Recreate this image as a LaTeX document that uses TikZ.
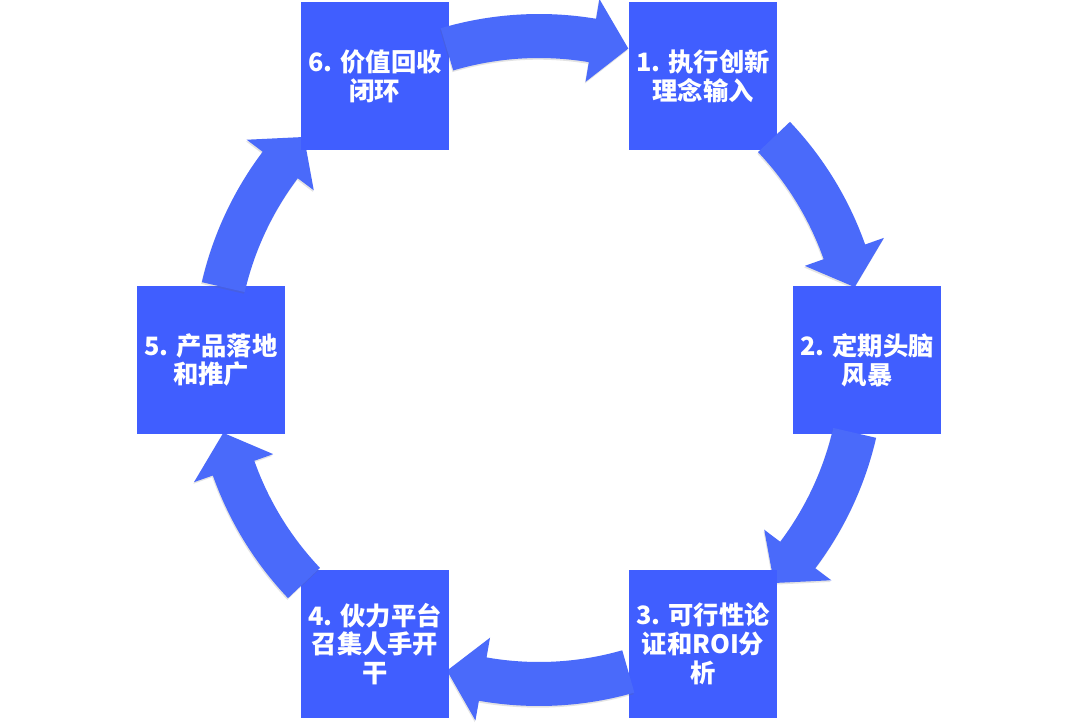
\documentclass[tikz,border=0pt]{standalone}
\usepackage{fontspec}
\newfontfamily\cjk{Noto Sans CJK SC}
\usetikzlibrary{shadows}
\definecolor{cBox}{HTML}{405EFF}
\definecolor{cArr}{HTML}{4A6AFA}
\tikzset{
  stage/.style={fill=cBox,minimum size=3.7cm,inner sep=0pt,text=white,
                align=center,font=\cjk\bfseries\fontsize{18}{20.5}\selectfont},
  cyc/.style={fill=cArr,drop shadow={shadow xshift=-0.5pt,shadow yshift=-1.2pt,
              opacity=0.18,fill=black!60}},
}
% curved block arrow on the ring: tail angle, tip angle
\newcommand{\cyclearrow}[2]{%
  \fill[cyc] (#1:346) arc[start angle=#1,end angle={#2+6.5},radius=346]
    -- ({#2+6.5}:366) -- (#2:324) -- ({#2+6.5}:282) -- ({#2+6.5}:302)
    arc[start angle={#2+6.5},end angle=#1,radius=302] -- cycle;}

\begin{document}
\begin{tikzpicture}[x=0.025cm,y=0.025cm]
  \useasboundingbox[fill=white] (-539,-368) rectangle (541,360);

  \node[stage] (s1) at (60:328) {1. 执行创新\\理念输入};
  \cyclearrow{43.5}{13}
  \node[stage] (s2) at (0:328) {2. 定期头脑\\风暴};
  \cyclearrow{-13}{-43.5}
  \node[stage] (s3) at (-60:328) {3. 可行性论\\证和ROI分\\析};
  \cyclearrow{-74}{-106.5}
  \node[stage] (s4) at (-120:328) {4. 伙力平台\\召集人手开\\干};
  \cyclearrow{-136.5}{-167}
  \node[stage] (s5) at (180:328) {5. 产品落地\\和推广};
  \cyclearrow{167}{136.5}
  \node[stage] (s6) at (120:328) {6. 价值回收\\闭环};
  \cyclearrow{106.5}{74}
\end{tikzpicture}
\end{document}
